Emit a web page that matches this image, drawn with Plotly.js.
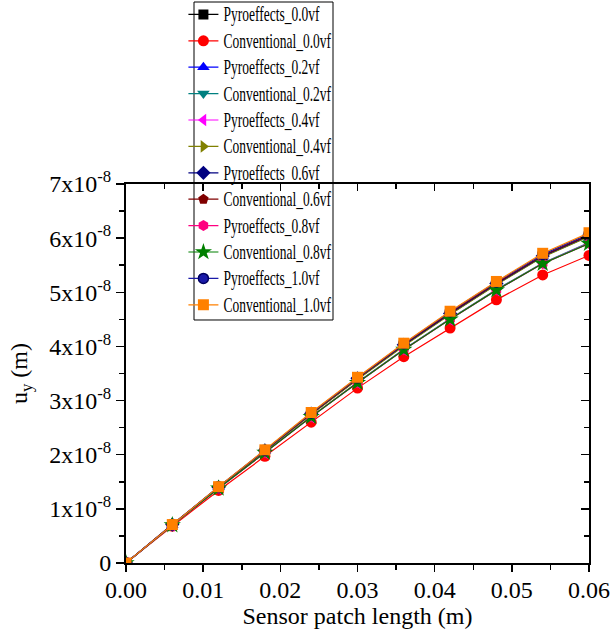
<!DOCTYPE html>
<html>
<head>
<meta charset="utf-8">
<script src="https://cdn.plot.ly/plotly-3.0.1.min.js"></script>
<style>html,body{margin:0;padding:0;background:#fff;}</style>
</head>
<body>
<div id="chart" style="width:615px;height:640px;"></div>
<script>
const xVals = [0, 0.006, 0.012, 0.018, 0.024, 0.03, 0.036, 0.042, 0.048, 0.054, 0.06];

const pyro00 = [0, 0.70e-8, 1.40e-8, 2.07e-8, 2.75e-8, 3.40e-8, 4.02e-8, 4.60e-8, 5.15e-8, 5.66e-8, 6.04e-8];
const conv00 = [0, 0.68e-8, 1.34e-8, 1.97e-8, 2.60e-8, 3.23e-8, 3.81e-8, 4.34e-8, 4.86e-8, 5.32e-8, 5.68e-8];
const pyro02 = [0, 0.70e-8, 1.40e-8, 2.07e-8, 2.75e-8, 3.40e-8, 4.02e-8, 4.60e-8, 5.15e-8, 5.66e-8, 6.04e-8];
const conv02 = [0, 0.70e-8, 1.38e-8, 2.04e-8, 2.70e-8, 3.34e-8, 3.95e-8, 4.51e-8, 5.05e-8, 5.54e-8, 5.92e-8];
const pyro04 = [0, 0.70e-8, 1.38e-8, 2.04e-8, 2.70e-8, 3.33e-8, 3.94e-8, 4.50e-8, 5.04e-8, 5.53e-8, 5.91e-8];
const conv04 = [0, 0.70e-8, 1.39e-8, 2.07e-8, 2.74e-8, 3.39e-8, 4.01e-8, 4.59e-8, 5.14e-8, 5.65e-8, 6.03e-8];
const pyro06 = [0, 0.71e-8, 1.40e-8, 2.08e-8, 2.76e-8, 3.41e-8, 4.03e-8, 4.61e-8, 5.16e-8, 5.67e-8, 6.05e-8];
const conv06 = [0, 0.71e-8, 1.40e-8, 2.08e-8, 2.76e-8, 3.41e-8, 4.04e-8, 4.62e-8, 5.17e-8, 5.68e-8, 6.06e-8];
const pyro08 = [0, 0.70e-8, 1.38e-8, 2.04e-8, 2.70e-8, 3.33e-8, 3.94e-8, 4.50e-8, 5.04e-8, 5.53e-8, 5.90e-8];
const conv08 = [0, 0.70e-8, 1.38e-8, 2.04e-8, 2.70e-8, 3.33e-8, 3.94e-8, 4.50e-8, 5.04e-8, 5.53e-8, 5.90e-8];
const pyro10 = [0, 0.71e-8, 1.41e-8, 2.08e-8, 2.77e-8, 3.42e-8, 4.05e-8, 4.64e-8, 5.19e-8, 5.70e-8, 6.08e-8];
const conv10 = [0, 0.71e-8, 1.41e-8, 2.09e-8, 2.78e-8, 3.43e-8, 4.06e-8, 4.65e-8, 5.20e-8, 5.72e-8, 6.10e-8];

const seriesNames = ["Pyroeffects_0.0vf","Conventional_0.0vf","Pyroeffects_0.2vf","Conventional_0.2vf",
  "Pyroeffects_0.4vf","Conventional_0.4vf","Pyroeffects_0.6vf","Conventional_0.6vf",
  "Pyroeffects_0.8vf","Conventional_0.8vf","Pyroeffects_1.0vf","Conventional_1.0vf"];
const seriesData = [pyro00, conv00, pyro02, conv02, pyro04, conv04, pyro06, conv06, pyro08, conv08, pyro10, conv10];

const xTickVals = [0, 0.01, 0.02, 0.03, 0.04, 0.05, 0.06];
const yTickVals = [0, 1e-8, 2e-8, 3e-8, 4e-8, 5e-8, 6e-8, 7e-8];
const yTickText = ["0", "1x10<sup>-8</sup>", "2x10<sup>-8</sup>", "3x10<sup>-8</sup>", "4x10<sup>-8</sup>",
  "5x10<sup>-8</sup>", "6x10<sup>-8</sup>", "7x10<sup>-8</sup>"];

const colors = ["#000000","#FF0000","#0000FF","#008080","#FF00FF","#808000","#000080","#800000","#FF0080","#008000","#1a1aa8","#FF8000"];
const symbols = ["square","circle","triangle-up","triangle-down","triangle-left","triangle-right","diamond","pentagon","hexagon","star","circle","square"];
const sizes = [10,11,11,11,11,11,11,11,11,13,10,11];

const traces = seriesNames.map((n, i) => ({
  x: xVals, y: seriesData[i], name: n, type: 'scatter', mode: 'lines+markers',
  line: {color: colors[i], width: 1.2},
  marker: {symbol: symbols[i], size: sizes[i], color: colors[i],
    line: {width: i === 10 ? 1.5 : 0, color: '#000060'}}
}));
traces.push({x: [0, 0.06], y: [0, 7e-8], xaxis: 'x2', yaxis: 'y2', mode: 'markers',
  marker: {opacity: 0}, showlegend: false, hoverinfo: 'skip'});

const FAM = 'Liberation Serif, Times New Roman, serif';
const f = (s) => ({family: FAM, size: s, color: '#000'});

const layout = {
  width: 615, height: 640,
  margin: {l: 126, r: 26, t: 184, b: 77, autoexpand: false},
  paper_bgcolor: '#fff', plot_bgcolor: '#fff',
  font: f(24),
  showlegend: true,
  legend: {x: 0.124, y: 1.4955, xanchor: 'left', yanchor: 'top',
    bgcolor: 'rgba(0,0,0,0)', borderwidth: 0,
    font: f(18), itemwidth: 30, tracegroupgap: 0},
  shapes: [{type: 'rect', xref: 'paper', yref: 'paper', x0: 0.1469, x1: 0.4471, y0: 0.6412, y1: 1.4802,
    line: {color: '#000', width: 1}, fillcolor: '#fff', layer: 'below'}],
  xaxis: {range: [0, 0.06], tickvals: xTickVals, tickformat: '.2f',
    ticks: 'outside', ticklen: 7, tickwidth: 1.5, tickcolor: '#000', ticklabelstandoff: -3,
    showline: true, linecolor: '#000', linewidth: 2, showgrid: false, zeroline: false,
    minor: {ticks: 'outside', ticklen: 5, tickwidth: 1.5, tickcolor: '#000', dtick: 0.005, showgrid: false},
    tickfont: f(24),
    title: {text: 'Sensor patch length (m)', font: f(24), standoff: 0}},
  yaxis: {range: [0, 7e-8], tickvals: yTickVals, ticktext: yTickText,
    ticks: 'outside', ticklen: 8, tickwidth: 1.5, tickcolor: '#000',
    showline: true, linecolor: '#000', linewidth: 2, showgrid: false, zeroline: false,
    minor: {ticks: 'outside', ticklen: 5, tickwidth: 1.5, tickcolor: '#000', dtick: 0.5e-8, showgrid: false},
    tickfont: f(24),
    title: {text: 'u<sub>y</sub> (m)', font: f(24), standoff: 15}},
  xaxis2: {overlaying: 'x', side: 'top', range: [0, 0.06], tickvals: xTickVals,
    showticklabels: false, ticks: 'inside', ticklen: 7, tickwidth: 1.5, tickcolor: '#000',
    showline: true, linecolor: '#000', linewidth: 2, showgrid: false, zeroline: false,
    minor: {ticks: 'inside', ticklen: 5, tickwidth: 1.5, tickcolor: '#000', dtick: 0.005, showgrid: false}},
  yaxis2: {overlaying: 'y', side: 'right', range: [0, 7e-8], tickvals: yTickVals,
    showticklabels: false, ticks: 'inside', ticklen: 8, tickwidth: 1.5, tickcolor: '#000',
    showline: true, linecolor: '#000', linewidth: 2, showgrid: false, zeroline: false,
    minor: {ticks: 'inside', ticklen: 5, tickwidth: 1.5, tickcolor: '#000', dtick: 0.5e-8, showgrid: false}}
};

// taller but narrower legend labels, as in the reference
function narrowLegend(gd) {
  gd.querySelectorAll('.legendtext').forEach(function (t) {
    if (t.getAttribute('data-narrow')) return;
    t.style.setProperty('font-size', '18px');
    const w = t.getComputedTextLength();
    t.style.setProperty('font-size', '22px', 'important');
    t.setAttribute('textLength', (w * 0.75).toFixed(1));
    t.setAttribute('lengthAdjust', 'spacingAndGlyphs');
    t.setAttribute('data-narrow', '1');
  });
}

Plotly.newPlot('chart', traces, layout, {displayModeBar: false, staticPlot: true}).then(function (gd) {
  narrowLegend(gd);
  gd.on('plotly_afterplot', function () { narrowLegend(gd); });
});
</script>
</body>
</html>
